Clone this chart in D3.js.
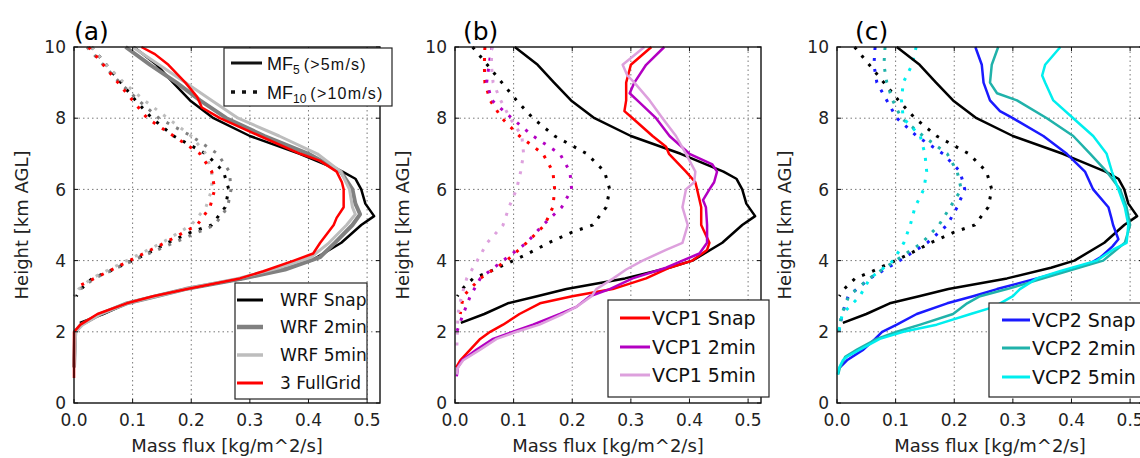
<!DOCTYPE html>
<meta charset="utf-8">
<style>
  body { margin: 0; background: #fff; }
  text { font-family: "DejaVu Sans", sans-serif; fill: #222; }
  .grid line { stroke: #555; stroke-width: 0.8; stroke-dasharray: 1.5,3; }
  .frame { fill: none; stroke: #111; stroke-width: 1.4; }
  .legend rect { fill: #fff; stroke: #222; stroke-width: 1.2; }
</style>
<body>
<script src="https://d3js.org/d3.v7.min.js"></script>
<script>

// ---- data: [mass flux (kg/m^2/s), height (km AGL)] ----

// ticks
var xTicks = [0.0, 0.1, 0.2, 0.3, 0.4, 0.5];
var yTicks = [0, 2, 4, 6, 8, 10];

// WRF truth (shared black curves in every panel)
var wrfSnap5 = [[0.102,10],[0.141,9.5],[0.169,9.0],[0.198,8.5],[0.238,8.0],[0.30,7.5],[0.385,7.0],[0.458,6.5],[0.48,6.3],[0.49,6.0],[0.497,5.6],[0.512,5.25],[0.49,5.0],[0.456,4.5],[0.405,4.0],[0.365,3.8],[0.29,3.5],[0.19,3.2],[0.14,3.0],[0.09,2.8],[0.05,2.5],[0.01,2.25]];
var wrfSnap10 = [[0.03,10],[0.055,9.5],[0.08,9.0],[0.105,8.5],[0.133,8.0],[0.17,7.5],[0.225,7.0],[0.255,6.5],[0.264,6.0],[0.258,5.5],[0.235,5.0],[0.2,4.8],[0.16,4.5],[0.125,4.2],[0.1,4.0],[0.06,3.7],[0.031,3.5],[0.012,3.2],[0.004,3.0]];

var wrf2min5 = [[0.088,10],[0.13,9.5],[0.175,9.0],[0.215,8.5],[0.26,8.0],[0.325,7.5],[0.40,7.0],[0.455,6.5],[0.475,6.0],[0.48,5.6],[0.488,5.3],[0.475,5.0],[0.445,4.5],[0.42,4.1],[0.36,3.75],[0.29,3.5],[0.19,3.2],[0.14,3.0],[0.09,2.8],[0.045,2.5],[0.012,2.2],[0.002,2.0],[0,1.0]];
var wrf2min10 = [[0.022,10],[0.05,9.5],[0.078,9.0],[0.11,8.5],[0.145,8.0],[0.2,7.5],[0.245,7.0],[0.265,6.5],[0.268,6.0],[0.262,5.5],[0.24,5.0],[0.17,4.5],[0.1,4.0],[0.035,3.5],[0.01,3.2],[0,3.0]];

var wrf5min5 = [[0.1,10],[0.145,9.5],[0.19,9.0],[0.235,8.5],[0.28,8.0],[0.35,7.5],[0.415,7.0],[0.455,6.5],[0.47,6.0],[0.475,5.5],[0.48,5.3],[0.465,5.0],[0.435,4.5],[0.405,4.1],[0.35,3.8],[0.28,3.5],[0.19,3.2],[0.14,3.0],[0.09,2.8],[0.045,2.5],[0.015,2.2],[0.003,2.0],[0,1.0]];
var wrf5min10 = [[0.03,10],[0.055,9.5],[0.085,9.0],[0.12,8.5],[0.16,8.0],[0.2,7.5],[0.225,7.0],[0.235,6.5],[0.235,6.0],[0.225,5.5],[0.2,5.0],[0.15,4.5],[0.09,4.0],[0.03,3.5],[0.008,3.2],[0,3.0]];

var fullGrid5 = [[0.115,10],[0.138,9.8],[0.161,9.5],[0.19,9.0],[0.21,8.6],[0.218,8.3],[0.249,8.0],[0.317,7.5],[0.386,7.0],[0.42,6.8],[0.448,6.5],[0.457,6.2],[0.46,6.0],[0.46,5.5],[0.448,5.2],[0.443,5.0],[0.42,4.5],[0.408,4.2],[0.375,4.0],[0.323,3.7],[0.283,3.5],[0.193,3.2],[0.135,3.0],[0.09,2.8],[0.04,2.5],[0.011,2.2],[0,2.0],[0,0.7]];
var fullGrid10 = [[0.025,10],[0.05,9.5],[0.075,9.0],[0.1,8.5],[0.125,8.0],[0.17,7.5],[0.215,7.0],[0.235,6.5],[0.24,6.0],[0.232,5.5],[0.21,5.0],[0.155,4.5],[0.095,4.0],[0.035,3.5],[0.004,3.25]];

// VCP1
var vcp1Snap5 = [[0.335,10],[0.30,9.5],[0.292,9.0],[0.292,8.5],[0.289,8.2],[0.303,8.0],[0.337,7.5],[0.36,7.2],[0.365,7.0],[0.394,6.5],[0.41,6.2],[0.413,6.0],[0.42,5.5],[0.42,5.0],[0.434,4.5],[0.43,4.3],[0.405,4.0],[0.366,3.8],[0.326,3.5],[0.269,3.2],[0.2,3.0],[0.145,2.8],[0.11,2.5],[0.082,2.2],[0.06,2.0],[0.043,1.8],[0.026,1.5],[0.009,1.2],[0.002,1.0]];
var vcp1Snap10 = [[0.051,10],[0.05,9.5],[0.051,9.0],[0.06,8.5],[0.08,8.0],[0.11,7.5],[0.15,7.0],[0.167,6.5],[0.17,6.0],[0.167,5.5],[0.153,5.0],[0.122,4.5],[0.088,4.0],[0.043,3.5],[0.014,3.0],[0.009,2.5]];
var vcp12min5 = [[0.357,10],[0.326,9.5],[0.306,9.0],[0.298,8.7],[0.311,8.5],[0.343,8.0],[0.366,7.5],[0.4,7.0],[0.439,6.7],[0.447,6.5],[0.442,6.2],[0.434,6.0],[0.423,5.7],[0.428,5.5],[0.43,5.0],[0.43,4.5],[0.417,4.2],[0.388,4.0],[0.36,3.8],[0.303,3.5],[0.264,3.2],[0.23,3.0],[0.207,2.7],[0.179,2.5],[0.133,2.2],[0.099,2.0],[0.065,1.8],[0.037,1.5],[0.012,1.2],[0.005,1.0],[0.003,0.75]];
var vcp12min10 = [[0.063,10],[0.058,9.5],[0.054,9.0],[0.063,8.5],[0.097,8.0],[0.133,7.5],[0.179,7.0],[0.196,6.5],[0.199,6.0],[0.182,5.5],[0.15,5.0],[0.122,4.5],[0.082,4.0],[0.043,3.5],[0.026,3.0],[0.014,2.5],[0.003,2.0]];
var vcp15min5 = [[0.323,10],[0.286,9.5],[0.294,9.2],[0.306,9.0],[0.332,8.5],[0.354,8.0],[0.377,7.5],[0.394,7.0],[0.41,6.5],[0.408,6.2],[0.394,6.0],[0.388,5.5],[0.397,5.0],[0.388,4.5],[0.36,4.3],[0.32,4.0],[0.292,3.75],[0.27,3.5],[0.241,3.2],[0.233,3.0],[0.207,2.7],[0.184,2.5],[0.144,2.2],[0.105,2.0],[0.071,1.8],[0.043,1.5],[0.014,1.2],[0.005,1.0],[0.003,0.8]];
var vcp15min10 = [[0.063,10],[0.062,9.5],[0.065,9.0],[0.078,8.5],[0.094,8.0],[0.114,7.5],[0.117,7.0],[0.112,6.5],[0.105,6.0],[0.092,5.5],[0.082,5.0],[0.055,4.5],[0.038,4.0],[0.02,3.5],[0.011,3.0],[0.005,2.5],[0.003,1.5]];

// VCP2
var vcp2Snap5 = [[0.236,10],[0.247,9.5],[0.25,9.0],[0.261,8.5],[0.278,8.2],[0.3,8.0],[0.352,7.5],[0.392,7.0],[0.423,6.5],[0.437,6.0],[0.463,5.5],[0.468,5.2],[0.471,5.0],[0.48,4.6],[0.47,4.4],[0.45,4.1],[0.43,3.9],[0.341,3.5],[0.273,3.2],[0.232,3.0],[0.188,2.8],[0.136,2.5],[0.102,2.2],[0.077,2.0],[0.065,1.8],[0.045,1.5],[0.017,1.2],[0.005,1.0]];
var vcp2Snap10 = [[0.065,10],[0.063,9.5],[0.068,9.0],[0.085,8.5],[0.102,8.0],[0.136,7.5],[0.181,7.0],[0.21,6.5],[0.218,6.0],[0.205,5.5],[0.188,5.0],[0.154,4.5],[0.107,4.0],[0.056,3.5],[0.019,3.0],[0.009,2.5],[0.003,2.0]];
var vcp22min5 = [[0.275,10],[0.264,9.5],[0.261,9.0],[0.273,8.7],[0.307,8.5],[0.358,8.0],[0.403,7.5],[0.432,7.0],[0.46,6.5],[0.483,6.0],[0.494,5.5],[0.5,5.0],[0.491,4.5],[0.454,4.0],[0.352,3.5],[0.29,3.2],[0.244,3.0],[0.222,2.8],[0.198,2.5],[0.142,2.2],[0.102,2.0],[0.068,1.8],[0.034,1.5],[0.014,1.3],[0.005,1.0],[0.002,0.8]];
var vcp22min10 = [[0.082,10],[0.08,9.5],[0.085,9.0],[0.095,8.5],[0.11,8.0],[0.147,7.5],[0.188,7.0],[0.205,6.5],[0.212,6.0],[0.193,5.5],[0.174,5.0],[0.145,4.5],[0.1,4.0],[0.055,3.5],[0.02,3.0],[0.008,2.5],[0.003,2.0]];
var vcp25min5 = [[0.381,10],[0.355,9.5],[0.35,9.2],[0.355,9.0],[0.369,8.5],[0.403,8.0],[0.437,7.5],[0.46,7.0],[0.469,6.5],[0.48,6.0],[0.491,5.5],[0.497,5.0],[0.494,4.5],[0.47,4.3],[0.443,4.0],[0.38,3.7],[0.341,3.5],[0.312,3.2],[0.3,3.0],[0.268,2.7],[0.228,2.5],[0.17,2.2],[0.113,2.0],[0.073,1.8],[0.039,1.5],[0.017,1.3],[0.01,1.2],[0.004,1.0],[0.001,0.8]];
var vcp25min10 = [[0.135,10],[0.128,9.5],[0.113,9.0],[0.11,8.5],[0.113,8.0],[0.142,7.5],[0.15,7.0],[0.153,6.5],[0.148,6.0],[0.133,5.5],[0.125,5.0],[0.114,4.5],[0.096,4.0],[0.056,3.5],[0.039,3.0],[0.009,2.5],[0.003,2.0]];

// ---- layout ----
var W = 1140, H = 458;
var axTop = 47, axBottom = 403, pw = 306;

var svg = d3.select("body").append("svg")
  .attr("width", W).attr("height", H);

var y = d3.scaleLinear().domain([0, 10]).range([axBottom, axTop]);

var panels = [
  { left: 74, title: "(a)", titleX: 74,
    series: [
      { mf5: wrfSnap5, mf10: wrfSnap10, color: "#000", w: 2.5, label: "WRF Snap" },
      { mf5: wrf2min5, mf10: wrf2min10, color: "#808080", w: 4, label: "WRF 2min" },
      { mf5: wrf5min5, mf10: wrf5min10, color: "#bdbdbd", w: 3, label: "WRF 5min" },
      { mf5: fullGrid5, mf10: fullGrid10, color: "#ff0000", w: 2.5, label: "3 FullGrid" }
    ],
    legend: { x: 235, y: 283, w: 132, h: 116, rows: [300, 327, 355, 383], lx0: 237, lx1: 263, tx: 280, fs: 17, legendOf: [0, 1, 2, 3] } },
  { left: 455, title: "(b)", titleX: 463,
    series: [
      { mf5: wrfSnap5, mf10: wrfSnap10, color: "#000", w: 2.5 },
      { mf5: vcp1Snap5, mf10: vcp1Snap10, color: "#ff0000", w: 2.5, label: "VCP1 Snap" },
      { mf5: vcp12min5, mf10: vcp12min10, color: "#b300c2", w: 2.5, label: "VCP1 2min" },
      { mf5: vcp15min5, mf10: vcp15min10, color: "#dda0dd", w: 2.5, label: "VCP1 5min" }
    ],
    legend: { x: 608, y: 300, w: 161, h: 97, rows: [318, 347, 375], lx0: 620, lx1: 650, tx: 652, fs: 19, legendOf: [1, 2, 3] } },
  { left: 837, title: "(c)", titleX: 855,
    series: [
      { mf5: wrfSnap5, mf10: wrfSnap10, color: "#000", w: 2.5 },
      { mf5: vcp2Snap5, mf10: vcp2Snap10, color: "#1a1aff", w: 2.5, label: "VCP2 Snap" },
      { mf5: vcp22min5, mf10: vcp22min10, color: "#20b2aa", w: 2.5, label: "VCP2 2min" },
      { mf5: vcp25min5, mf10: vcp25min10, color: "#00eeee", w: 2.5, label: "VCP2 5min" }
    ],
    legend: { x: 989, y: 303, w: 170, h: 94, rows: [320, 348, 377], lx0: 1002, lx1: 1030, tx: 1032, fs: 19, legendOf: [1, 2, 3] } }
];

panels.forEach(function (p) {
  var x = d3.scaleLinear().domain([0, 0.522]).range([p.left, p.left + pw]);
  var g = svg.append("g");

  // grid
  var grid = g.append("g").attr("class", "grid");
  grid.selectAll(".gx").data(xTicks.slice(1)).enter().append("line")
    .attr("x1", function (d) { return x(d); }).attr("x2", function (d) { return x(d); })
    .attr("y1", axTop).attr("y2", axBottom);
  grid.selectAll(".gy").data(yTicks.slice(1, -1)).enter().append("line")
    .attr("x1", p.left).attr("x2", p.left + pw)
    .attr("y1", function (d) { return y(d); }).attr("y2", function (d) { return y(d); });

  var line = d3.line()
    .x(function (d) { return x(d[0]); })
    .y(function (d) { return y(d[1]); });

  // MF10 dotted
  p.series.forEach(function (s) {
    g.append("path").datum(s.mf10)
      .attr("d", line).attr("fill", "none")
      .attr("stroke", s.color).attr("stroke-width", 3)
      .attr("stroke-dasharray", "3,8");
  });
  // MF5 solid
  p.series.forEach(function (s) {
    g.append("path").datum(s.mf5)
      .attr("d", line).attr("fill", "none")
      .attr("stroke", s.color).attr("stroke-width", s.w)
      .attr("stroke-linejoin", "round");
  });

  // inward ticks on all four sides
  var tl = 4;
  xTicks.forEach(function (t) {
    g.append("line").attr("x1", x(t)).attr("x2", x(t)).attr("y1", axBottom).attr("y2", axBottom - tl).attr("stroke", "#111");
    g.append("line").attr("x1", x(t)).attr("x2", x(t)).attr("y1", axTop).attr("y2", axTop + tl).attr("stroke", "#111");
  });
  yTicks.forEach(function (t) {
    g.append("line").attr("x1", p.left).attr("x2", p.left + tl).attr("y1", y(t)).attr("y2", y(t)).attr("stroke", "#111");
    g.append("line").attr("x1", p.left + pw).attr("x2", p.left + pw - tl).attr("y1", y(t)).attr("y2", y(t)).attr("stroke", "#111");
  });

  g.append("rect").attr("class", "frame")
    .attr("x", p.left).attr("y", axTop).attr("width", pw).attr("height", axBottom - axTop);

  // tick labels
  g.selectAll(".xl").data(xTicks).enter().append("text")
    .attr("x", function (d) { return x(d); }).attr("y", 426)
    .attr("text-anchor", "middle").style("font-size", "17px")
    .text(function (d) { return d.toFixed(1); });
  g.selectAll(".yl").data(yTicks).enter().append("text")
    .attr("x", p.left - 8).attr("y", function (d) { return y(d); })
    .attr("dy", "0.36em").attr("text-anchor", "end").style("font-size", "17px")
    .text(function (d) { return d; });

  // axis labels
  g.append("text").attr("x", p.left + pw / 2).attr("y", 452)
    .attr("text-anchor", "middle").style("font-size", "18px")
    .text("Mass flux [kg/m^2/s]");
  g.append("text")
    .attr("transform", "translate(" + (p.left - 46) + "," + ((axTop + axBottom) / 2) + ") rotate(-90)")
    .attr("text-anchor", "middle").style("font-size", "18px")
    .text("Height [km AGL]");

  // panel title
  g.append("text").attr("x", p.titleX).attr("y", 40)
    .style("font-size", "25px").style("fill", "#000").text(p.title);
});

// legends drawn on top (they overflow the axes)
panels.forEach(function (p) {
  var L = p.legend;
  var lg = svg.append("g").attr("class", "legend");
  lg.append("rect").attr("x", L.x).attr("y", L.y).attr("width", L.w).attr("height", L.h);
  L.legendOf.forEach(function (si, i) {
    var s = p.series[si];
    lg.append("line").attr("x1", L.lx0).attr("x2", L.lx1)
      .attr("y1", L.rows[i]).attr("y2", L.rows[i])
      .attr("stroke", s.color).attr("stroke-width", s.w + 0.5);
    lg.append("text").attr("x", L.tx).attr("y", L.rows[i]).attr("dy", "0.36em")
      .style("font-size", L.fs + "px").style("fill", "#111").text(s.label);
  });
});

// MF5 / MF10 key in panel (a)
var key = svg.append("g").attr("class", "legend");
key.append("rect").attr("x", 224).attr("y", 48).attr("width", 168).attr("height", 58);
key.append("line").attr("x1", 231).attr("x2", 262).attr("y1", 63).attr("y2", 63)
  .attr("stroke", "#111").attr("stroke-width", 3);
key.append("line").attr("x1", 231).attr("x2", 262).attr("y1", 92).attr("y2", 92)
  .attr("stroke", "#111").attr("stroke-width", 3.5).attr("stroke-dasharray", "4,7");
var keyRows = [
  { y: 70, sub: "5", note: "(>5m/s)" },
  { y: 99, sub: "10", note: "(>10m/s)" }
];
keyRows.forEach(function (r) {
  var t = key.append("text").attr("x", 267).attr("y", r.y)
    .style("font-family", "'Liberation Sans', Arial, sans-serif").style("fill", "#111");
  t.append("tspan").style("font-size", "18px").text("MF");
  t.append("tspan").attr("dy", 4).style("font-size", "12px").text(r.sub);
  t.append("tspan").attr("dy", -4).attr("dx", 4).style("font-size", "16px")
    .style("letter-spacing", "1.2px").text(r.note);
});

</script>
</body>
